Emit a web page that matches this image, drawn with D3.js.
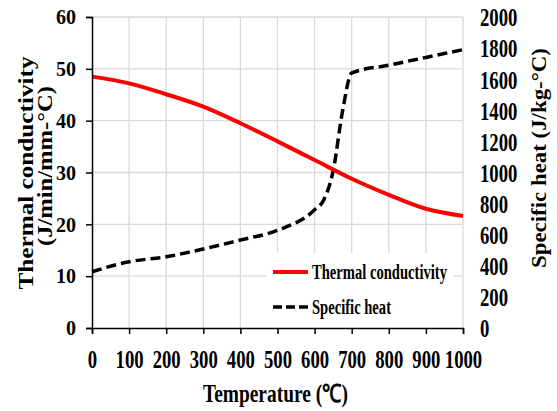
<!DOCTYPE html>
<html>
<head>
<meta charset="utf-8">
<script src="https://cdn.jsdelivr.net/npm/d3@7"></script>
<style>
  body { margin: 0; background: #fff; }
  text { font-family: "Liberation Serif", "Times New Roman", serif; font-weight: bold; fill: #000; }
</style>
</head>
<body>
<script>
// temperatures (deg C)
var condTemps = [0, 100, 200, 300, 400, 500, 600, 700, 800, 900, 1000];
// thermal conductivity (J/min/mm-C)
var condValues = [48.5, 47.2, 45.1, 42.7, 39.5, 36.0, 32.4, 28.8, 25.7, 23.0, 21.6];
// specific heat (J/kg-C)
var heatTemps = [0, 100, 200, 300, 400, 500, 600, 625, 650, 675, 700, 800, 900, 1000];
var heatValues = [362, 426, 458, 508, 566, 628, 760, 825, 1010, 1390, 1640, 1690, 1740, 1790];

var xTicks = [0, 100, 200, 300, 400, 500, 600, 700, 800, 900, 1000];
var leftTicks = [0, 10, 20, 30, 40, 50, 60];
var rightTicks = [0, 200, 400, 600, 800, 1000, 1200, 1400, 1600, 1800, 2000];

var w = 557, h = 411;
var svg = d3.select("body").append("svg").attr("width", w).attr("height", h);

var x = d3.scaleLinear().domain([0, 1000]).range([92, 463]);
var yL = d3.scaleLinear().domain([0, 60]).range([328, 17]);
var yR = d3.scaleLinear().domain([0, 2000]).range([328, 17]);

// gridlines
svg.append("g").selectAll("line").data(leftTicks.slice(1)).enter().append("line")
   .attr("x1", 92).attr("x2", 463)
   .attr("y1", function(d) { return yL(d); }).attr("y2", function(d) { return yL(d); })
   .attr("stroke", "#d9d9d9").attr("stroke-width", 1.3);
svg.append("g").selectAll("line").data(xTicks.slice(1)).enter().append("line")
   .attr("x1", function(d) { return x(d); }).attr("x2", function(d) { return x(d); })
   .attr("y1", 17).attr("y2", 328)
   .attr("stroke", "#d9d9d9").attr("stroke-width", 1.3);

// legend background hides gridlines
svg.append("rect").attr("x", 267).attr("y", 253).attr("width", 186).attr("height", 75)
   .attr("fill", "#fff");

// data lines
var condLine = d3.line()
  .x(function(d, i) { return x(condTemps[i]); })
  .y(function(d) { return yL(d); })
  .curve(d3.curveMonotoneX);
var heatLine = d3.line()
  .x(function(d, i) { return x(heatTemps[i]); })
  .y(function(d) { return yR(d); })
  .curve(d3.curveMonotoneX);

svg.append("path").datum(heatValues).attr("d", heatLine)
   .attr("fill", "none").attr("stroke", "#000").attr("stroke-width", 3.5)
   .attr("stroke-dasharray", "10,5");
svg.append("path").datum(condValues).attr("d", condLine)
   .attr("fill", "none").attr("stroke", "#ff0000").attr("stroke-width", 4);

// axes
var fmt = d3.format("d");
var leftAxis = svg.append("g").attr("transform", "translate(92,0)")
   .call(d3.axisLeft(yL).tickValues(leftTicks).tickFormat(fmt).tickSize(6).tickPadding(0));
leftAxis.select(".domain").attr("stroke-width", 1.5);
leftAxis.selectAll(".tick line").attr("stroke-width", 1.5);
leftAxis.selectAll("text").attr("x", -16).attr("font-size", 20).attr("dy", "0.34em");

var bottomAxis = svg.append("g").attr("transform", "translate(0,328)")
   .call(d3.axisBottom(x).tickValues(xTicks).tickFormat(fmt).tickSize(6));
bottomAxis.select(".domain").attr("stroke-width", 1.5);
bottomAxis.selectAll(".tick line").attr("stroke-width", 1.5);
bottomAxis.selectAll("text").attr("y", 40).attr("dy", null)
   .attr("font-size", 26).attr("transform", "scale(0.72,1)");

var rightAxis = svg.append("g").attr("transform", "translate(463,0)")
   .call(d3.axisRight(yR).tickValues(rightTicks).tickFormat(fmt).tickSize(0));
rightAxis.select(".domain").remove();
rightAxis.selectAll("text").attr("x", 0).attr("dy", "0.34em")
   .attr("font-size", 26).attr("text-anchor", "start")
   .attr("transform", "translate(17,0) scale(0.72,1)");
svg.selectAll(".tick text").attr("font-family", "Liberation Serif").attr("font-weight", "bold");

// axis titles
svg.append("text").attr("x", 203).attr("y", 402).attr("font-size", 25)
   .attr("textLength", 145).attr("lengthAdjust", "spacingAndGlyphs")
   .text("Temperature (\u2103)");
svg.append("text").attr("transform", "translate(33,173) rotate(-90)")
   .attr("text-anchor", "middle").attr("font-size", 22)
   .attr("textLength", 233).attr("lengthAdjust", "spacingAndGlyphs")
   .text("Thermal conductivity");
svg.append("text").attr("transform", "translate(52,166) rotate(-90)")
   .attr("text-anchor", "middle").attr("font-size", 22)
   .attr("textLength", 160).attr("lengthAdjust", "spacingAndGlyphs")
   .text("(J/min/mm-\u00B0C)");
svg.append("text").attr("transform", "translate(546,158) rotate(-90)")
   .attr("text-anchor", "middle").attr("font-size", 21)
   .attr("textLength", 220).attr("lengthAdjust", "spacingAndGlyphs")
   .text("Specific heat (J/kg-\u00B0C)");

// legend
svg.append("line").attr("x1", 273).attr("x2", 308).attr("y1", 272).attr("y2", 272)
   .attr("stroke", "#ff0000").attr("stroke-width", 4);
svg.append("text").attr("x", 312).attr("y", 279).attr("font-size", 20)
   .attr("textLength", 135).attr("lengthAdjust", "spacingAndGlyphs")
   .text("Thermal conductivity");
svg.append("line").attr("x1", 273).attr("x2", 308).attr("y1", 307).attr("y2", 307)
   .attr("stroke", "#000").attr("stroke-width", 3.5).attr("stroke-dasharray", "9,4");
svg.append("text").attr("x", 312).attr("y", 314).attr("font-size", 20)
   .attr("textLength", 79).attr("lengthAdjust", "spacingAndGlyphs")
   .text("Specific heat");
</script>
</body>
</html>
